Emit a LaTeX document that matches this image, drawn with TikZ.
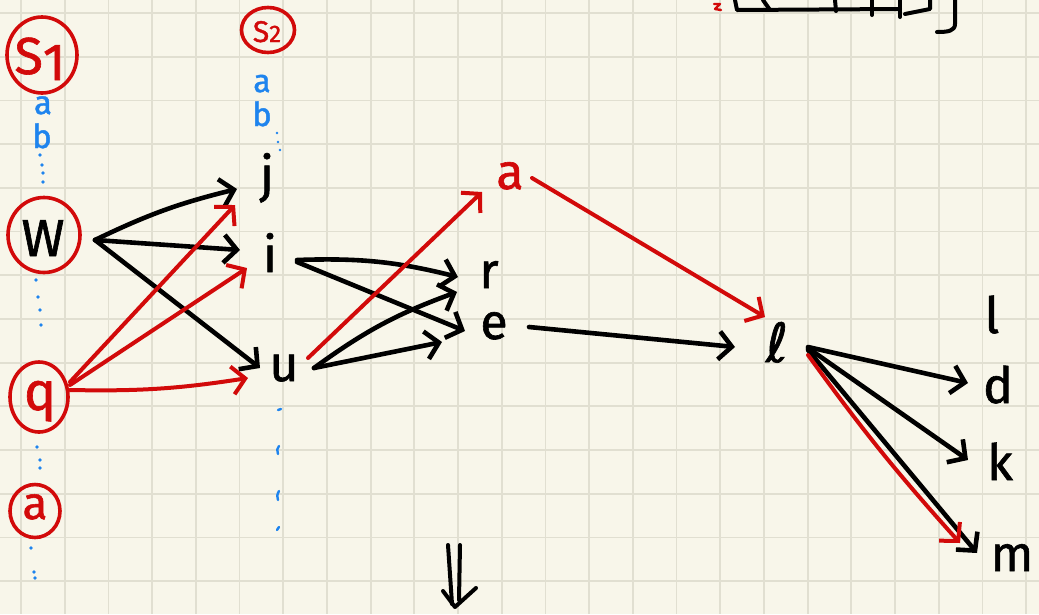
\documentclass[tikz,border=0pt]{standalone}
\usepackage{fontspec}
\setmainfont{Fira Sans}
\newfontfamily\handfam[FakeBold=1.2]{Fira Sans}
\newfontfamily\dejavu[FakeBold=1.2]{DejaVu Sans}
\usetikzlibrary{arrows.meta,shapes.geometric,calc}
\definecolor{bgc}{HTML}{F8F6EA}
\definecolor{gridc}{HTML}{E1DFD1}
\definecolor{redc}{HTML}{D20A0A}
\definecolor{bluec}{HTML}{1E84EE}
\newcommand\handf[1]{\handfam\fontsize{#1}{#1}\selectfont}
\tikzset{
  gridl/.style={draw=gridc, line width=1.8pt},
  ring/.style={draw=redc, line width=3.6pt, ellipse, inner sep=0pt},
  letter/.style={anchor=base, inner sep=0pt, font=\handf{50}},
  blueletter/.style={anchor=base, inner sep=0pt, text=bluec, font=\handf{33}},
  bluedot/.style={fill=bluec, draw=none, circle, inner sep=0pt, minimum size=3.8pt},
  bluemark/.style={draw=bluec, line width=2.4pt, line cap=round},
  blk/.style={draw=black, line width=4.6pt, line cap=round, line join=round,
    -{Straight Barb[length=13pt,width=28pt]}},
  redarr/.style={blk, draw=redc, line width=4pt},
  pen/.style={draw=black, line width=4pt, line cap=round, line join=round},
}
\begin{document}
\begin{tikzpicture}[x=1pt,y=-1pt]
\useasboundingbox (0,0) rectangle (1039,614);
\fill[bgc] (0,0) rectangle (1039,614);
\foreach \k in {0,...,23} \draw[gridl] ({21+43.7*\k},0) -- ({21+43.7*\k},614);
\foreach \k in {0,...,13} \draw[gridl] (0,{13+43.7*\k}) -- (1039,{13+43.7*\k});

% top-right partial sketch
\draw[pen] (735,0) -- (737,10) -- (900,9);
\draw[pen] (763,0) -- (770,10);
\draw[pen] (835,0) -- (836,11);
\draw[pen] (872,0) -- (872,15);
\draw[pen] (900,0) -- (900,17);
\draw[pen] (905,14) -- (930,9) -- (930,0);
\draw[pen] (955,0) -- (955,24) .. controls (955,31) and (948,32) .. (937,32);
\draw[draw=redc, line width=2.4pt, line cap=round, line join=round] (714,4) -- (720,4) -- (715,9) -- (721,10);

% S1 column
\node[ring, minimum width=70pt, minimum height=76pt] (S1ring) at (42,55) {};
\node[letter, text=redc, font=\handf{52}] (S1) at (40,74) {S\raisebox{-6pt}{1}};
\node[blueletter] (S1a) at (43,114) {a};
\node[blueletter] (S1b) at (42,148) {b};
\foreach \p in {(40,155),(42,165),(43,173),(43,182),(36,280),(38,297),(40,310),(41,325),(37,447),(40,460),(40,468),(31,548),(34,572),(35,578)}
  \node[bluedot] at \p {};

\node[ring, minimum width=72pt, minimum height=75pt] (Wring) at (44,235) {};
\node[letter, font=\handf{52}] (W) at (43,256) {W};
\node[ring, minimum width=58pt, minimum height=70pt] (qring) at (39,397) {};
\node[letter, text=redc, font=\handf{54}] (q) at (40,410) {q};
\node[ring, minimum width=50pt, minimum height=53pt] (aring) at (35,511) {};
\node[letter, text=redc, font=\handf{46}] (a1) at (35,519) {a};

% S2 column
\node[ring, minimum width=53pt, minimum height=45pt] (S2ring) at (268,30) {};
\node[letter, text=redc, font=\handf{30}] (S2) at (267,42) {S{\handf{24}2}};
\node[blueletter, font=\handf{32}] (S2a) at (262,92) {a};
\node[blueletter] (S2b) at (262,126) {b};
\foreach \p in {(277,133),(278,142),(280,150)}
  \node[bluedot, minimum size=2.8pt] at \p {};
\draw[bluemark] (278,410) -- (281,409);
\draw[bluemark] (279,446) .. controls (277,449) .. (278,454);
\draw[bluemark] (279,491) .. controls (277,495) .. (278,500);
\draw[bluemark] (277,530) -- (279,527);

% letters
\node[letter] (j) at (267,192) {j};
\node[letter] (i) at (270,272) {i};
\node[letter] (u) at (284,381) {u};
\node[letter] (r) at (489,288) {r};
\node[letter] (e) at (494,339) {e};
\node[letter, text=redc] (a2) at (510,189) {a};
\node[letter, font=\dejavu\fontsize{54}{54}\selectfont] (ell) at (777,362) {ℓ};
\node[letter] (l2) at (992,333) {l};
\node[letter] (d) at (998,403) {d};
\node[letter] (k) at (1000,480) {k};
\node[letter] (m) at (1012,571) {m};

% black connectors
\draw[blk] ($(W.base)+(52,-16)$) to[bend left=6] ($(j.base)+(-30,-3)$);
\draw[blk] ($(W.base)+(52,-16)$) -- ($(i.base)+(-30,-22)$);
\draw[blk] ($(W.base)+(52,-16)$) -- ($(u.base)+(-24,-13)$);
\draw[blk] ($(i.base)+(27,-12)$) to[bend left=8] ($(r.base)+(-31,-11)$);
\draw[blk] ($(i.base)+(27,-10)$) -- ($(e.base)+(-29,-8)$);
\draw[blk] ($(u.base)+(30,-13)$) to[bend left=8] ($(r.base)+(-32,4)$);
\draw[blk] ($(u.base)+(30,-13)$) -- ($(e.base)+(-52,3)$);
\draw[blk] ($(e.base)+(35,-12)$) -- ($(ell.base)+(-42,-15)$);
\draw[blk] ($(ell.base)+(31,-15)$) -- ($(d.base)+(-30,-20)$);
\draw[blk] ($(ell.base)+(31,-14)$) -- ($(k.base)+(-32,-20)$);
\draw[blk] ($(ell.base)+(31,-12)$) -- ($(m.base)+(-35,-18)$);

% red connectors
\draw[redarr] ($(q.base)+(30,-28)$) -- ($(j.base)+(-32,13)$);
\draw[redarr] ($(q.base)+(30,-25)$) -- ($(i.base)+(-23,-4)$);
\draw[redarr] ($(q.base)+(30,-20)$) to[bend right=5] ($(u.base)+(-36,-3)$);
\draw[redarr] ($(u.base)+(24,-23)$) -- ($(a2.base)+(-28,3)$);
\draw[redarr] ($(a2.base)+(22,-11)$) -- ($(ell.base)+(-12,-45)$);
\draw[redarr] ($(ell.base)+(31,-7)$) to[bend right=3] ($(m.base)+(-52,-28)$);

% double down arrow
\draw[pen] (448,545) -- (452,604);
\draw[pen] (460,545) -- (459,600);
\draw[pen] (443,591) -- (455,607) -- (476,588);
\end{tikzpicture}
\end{document}
